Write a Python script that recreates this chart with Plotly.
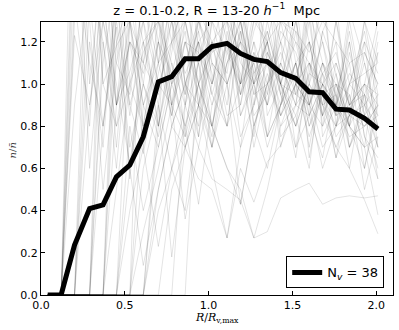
import plotly.graph_objects as go

# radial bins (R / R_v,max)
r_bins = [0.04, 0.12, 0.20, 0.29, 0.37, 0.45, 0.53, 0.61, 0.70, 0.78, 0.86, 0.94,
          1.02, 1.11, 1.19, 1.27, 1.35, 1.43, 1.52, 1.60, 1.68, 1.76, 1.84, 1.93, 2.01]

# stacked (mean) profile
mean_profile = [0.0, 0.0, 0.237, 0.41, 0.427, 0.56, 0.616, 0.75, 1.01, 1.035, 1.12, 1.12,
                1.178, 1.193, 1.145, 1.117, 1.106, 1.054, 1.027, 0.963, 0.959, 0.881,
                0.877, 0.837, 0.787]

# individual void profiles (estimated)
void_profiles = [
    [0,0,1.23,0.9,1.45,0.7,1.4,1.6,1.2,0.85,1.3,1.55,1.1,0.8,1.0,1.35,1.15,0.7,1.0,1.4,1.2,0.95,0.6,1.0,1.3],
    [0,0,1.6,1.1,0.8,1.4,1.7,0.75,1.2,1.5,1.0,0.8,1.4,1.6,0.95,1.2,0.75,0.9,1.3,1.0,1.5,0.8,1.2,0.75,0.55],
    [0,0,2.0,0.6,1.3,0.9,1.5,1.2,0.8,1.6,1.3,1.0,0.75,1.5,1.3,1.0,1.4,1.2,0.7,0.85,1.25,1.05,0.8,1.3,1.1],
    [0,0,1.8,1.3,0.5,1.1,0.95,1.4,1.0,1.2,1.7,1.15,0.9,1.2,1.45,0.8,1.0,1.3,0.95,1.5,0.75,0.9,1.25,0.85,0.95],
    [0,0,1.3,1.9,1.0,0.8,1.2,1.05,1.35,0.9,0.75,1.25,1.5,1.0,1.2,1.6,0.85,1.0,1.35,0.65,1.0,1.2,0.7,0.9,1.25],
    [0,0,0.9,1.5,1.2,0.6,1.3,1.1,1.6,1.3,0.75,1.0,1.15,1.5,0.85,1.0,1.2,0.75,0.85,1.05,1.4,0.9,1.1,0.6,0.9],
    [0,0,0,1.4,0.8,1.27,0.7,1.0,1.5,0.9,1.4,1.1,0.7,1.25,0.9,1.3,1.55,1.0,0.8,1.2,0.85,1.3,0.9,0.95,0.7],
    [0,0,0,2.2,1.0,1.18,1.3,0.9,1.1,1.6,1.0,1.2,0.95,0.8,1.3,0.95,1.2,1.5,1.1,0.8,1.0,0.65,0.85,1.2,1.05],
    [0,0,0,1.7,1.4,0.9,1.06,1.3,0.8,1.15,1.5,0.9,1.3,1.0,0.7,1.15,0.9,1.1,1.45,1.2,0.9,0.8,1.15,0.85,1.2],
    [0,0,0,0.9,1.3,1.0,0.62,1.1,1.4,1.0,1.25,0.75,1.2,0.9,1.4,1.05,1.2,0.85,1.0,1.35,0.8,1.1,0.9,1.3,0.95],
    [0,0,0,1.2,0.7,1.5,0.9,0.67,1.05,1.3,0.95,1.6,1.0,1.3,1.15,0.7,1.0,1.2,1.4,0.9,1.1,0.95,0.7,0.85,0.6],
    [0,0,0,0,1.6,1.1,1.4,1.0,0.8,1.2,1.3,1.0,1.5,1.2,0.95,1.25,1.45,0.95,0.8,1.0,1.2,0.85,1.0,1.25,0.9],
    [0,0,0,0,2.0,0.9,1.2,0.8,1.3,1.1,0.9,1.35,1.2,1.05,1.5,1.0,0.75,1.1,0.9,1.35,1.1,0.85,1.3,0.9,0.7],
    [0,0,0,0,1.2,0.8,1.0,1.4,1.1,0.85,1.2,1.0,0.8,1.15,1.0,1.5,1.1,0.9,1.25,0.85,0.65,1.0,0.8,1.15,1.0],
    [0,0,0,0,0.8,1.3,0.9,1.15,1.3,1.0,1.1,1.25,0.95,1.2,0.75,0.9,1.3,1.0,0.8,1.0,0.9,0.7,0.85,1.1,0.8],
    [0,0,0,0,0,1.7,1.0,1.2,0.9,1.4,1.0,0.75,1.3,1.6,1.0,1.15,0.95,1.4,1.0,0.9,1.25,1.4,0.8,0.7,1.15],
    [0,0,0,0,0,1.4,0.85,1.3,1.0,0.9,1.2,1.15,1.0,1.35,1.1,1.0,0.7,0.9,1.1,0.85,1.0,0.9,1.35,1.1,0.85],
    [0,0,0,0,0,0.9,1.3,0.7,1.1,1.2,0.95,1.3,1.05,0.8,1.25,0.95,1.0,1.1,0.9,1.3,0.85,1.05,0.7,0.95,1.15],
    [0,0,0,0,0,1.2,0.6,1.0,0.75,1.05,1.3,0.9,1.2,1.3,1.0,1.1,0.9,1.3,1.2,0.9,0.8,0.95,1.2,0.75,0.65],
    [0,0,0,0,0,0.5,1.0,0.8,1.2,0.9,1.1,1.3,1.1,1.0,1.2,0.8,1.05,0.85,1.0,1.1,0.95,0.8,0.85,1.0,0.8],
    [0,0,0,0,0,0,0.8,0.4,0.7,1.0,1.2,0.95,0.7,1.1,1.2,1.0,1.1,0.8,0.9,0.85,1.0,1.1,0.9,0.8,0.9],
    [0,0,0,0,0,0,1.3,0.9,1.2,1.05,0.8,1.1,1.4,1.3,0.85,1.05,0.9,1.25,1.15,0.95,0.7,0.8,1.0,1.2,0.7],
    [0,0,0,0,0,0,0.6,0.14,0.5,0.8,0.7,1.0,1.2,0.85,0.9,1.2,1.0,0.85,1.1,0.7,1.05,0.9,0.75,0.8,0.85],
    [0,0,0,0,0,0,0.4,0.7,0.23,0.6,0.9,1.1,0.8,1.2,1.05,0.75,1.15,1.0,0.65,1.1,0.85,1.0,0.95,0.7,0.75],
    [0,0,0,0,0,0,0,0.6,0.9,0.18,0.7,0.9,1.1,1.0,1.25,0.85,0.95,1.2,1.0,0.75,0.95,0.65,1.0,0.9,0.8],
    [0,0,0,0,0,0,0,0.3,0.6,0.9,0.36,0.7,1.0,1.2,0.95,1.1,0.75,0.9,1.05,1.2,0.9,0.95,0.8,0.6,0.95],
    [0,0,0,0,0,0,0,0.9,0.7,1.0,0.8,0.43,0.9,1.1,1.3,1.0,1.2,0.95,0.7,1.05,1.0,0.85,0.9,1.0,0.9],
    [0,0,0,0,0,0,0,0,0.5,0.8,1.0,0.9,0.6,0.27,0.7,0.9,1.1,1.0,0.85,0.6,1.1,0.9,0.8,0.95,0.55],
    [0,0,0,0,0,0,0,0,0.4,0.6,0.8,1.0,0.8,0.6,0.43,0.8,1.0,1.15,0.95,0.9,0.6,0.8,0.95,0.5,0.75],
    [0,0,0,0,0,0,0,0,0,0.5,0.7,0.9,0.8,0.6,0.5,0.27,0.5,0.8,1.0,0.9,1.05,0.75,0.85,0.8,0.9],
    [0,0,0,0,0,0,0,0,0,0,0.9,0.7,0.55,0.5,0.45,0.27,0.30,0.46,0.5,0.53,0.43,0.46,0.47,0.46,0.47],
    [0,0,0,0,0,0,0,0,0.8,1.1,0.7,0.55,0.5,0.27,0.6,0.44,0.63,0.71,0.9,1.0,0.85,0.7,0.6,0.45,0.29],
    [0,0,0,0,0,0,0,0,0.9,0.6,0.4,0.9,0.7,1.0,0.43,0.8,0.6,0.9,1.1,0.8,0.95,1.0,0.8,0.7,0.38],
    [0,0,2.5,1.0,1.6,0.9,1.2,1.1,0.95,1.3,1.05,1.2,1.0,1.4,1.2,1.1,1.25,1.0,0.95,1.1,1.0,0.9,1.05,0.95,0.85],
    [0,0,0,0,1.1,1.5,0.55,1.2,1.3,0.8,1.0,1.2,1.3,1.15,1.4,1.05,1.15,1.0,1.3,0.9,1.1,1.0,0.85,0.9,1.0],
    [0,0,0,0,0,0,0,1.8,1.1,1.4,0.9,1.3,1.15,1.2,1.0,1.3,1.2,0.95,1.1,1.2,1.05,1.15,0.9,1.0,0.95],
    [0,0,1.4,0.8,1.9,1.2,1.4,1.3,1.5,1.2,1.4,1.3,1.45,1.6,1.35,1.4,1.2,1.3,1.25,1.15,1.3,1.2,1.1,1.15,1.0],
    [0,0,0,0,0,0,0,0,0,0,0,1.2,0.8,1.1,1.3,0.9,1.25,1.0,1.2,1.1,0.9,1.3,1.0,1.05,1.1],
]

x_ticks = [0.0, 0.5, 1.0, 1.5, 2.0]
y_ticks = [0.0, 0.2, 0.4, 0.6, 0.8, 1.0, 1.2]
n_voids = 38

fig = go.Figure()
for prof in void_profiles:
    fig.add_trace(go.Scatter(x=r_bins, y=prof, mode="lines",
                             line=dict(color="rgba(0,0,0,0.11)", width=1),
                             showlegend=False, hoverinfo="skip"))

fig.add_trace(go.Scatter(x=r_bins, y=mean_profile, mode="lines",
                         line=dict(color="black", width=5),
                         name="N<sub><i>v</i></sub> = %d" % n_voids, showlegend=True))

axis_common = dict(showline=True, linecolor="black", linewidth=1, mirror="allticks",
                   ticks="inside", ticklen=4, tickcolor="black", showgrid=False,
                   zeroline=False, tickfont=dict(family="DejaVu Sans", size=11, color="black"))

fig.update_layout(
    width=399, height=330,
    margin=dict(l=41, r=6, t=22, b=35),
    paper_bgcolor="white", plot_bgcolor="white",
    title=dict(text="z = 0.1-0.2, R = 13-20 <i>h</i><sup>\u22121</sup>  Mpc",
               x=0.543, xanchor="center", y=0.955, yanchor="bottom",
               font=dict(family="DejaVu Sans", size=13, color="black")),
    xaxis=dict(range=[0, 2.1], tickvals=x_ticks, tickformat=".1f", **axis_common),
    yaxis=dict(range=[0, 1.294], tickvals=y_ticks, tickformat=".1f", **axis_common),
    legend=dict(x=0.975, y=0.024, xanchor="right", yanchor="bottom",
                bgcolor="white", bordercolor="black", borderwidth=1,
                font=dict(family="DejaVu Sans", size=13, color="black"),
                itemwidth=30, tracegroupgap=0),
    annotations=[
        dict(text="<i>R</i>/<i>R</i><sub>v,max</sub>", xref="paper", yref="paper",
             x=0.5, y=-0.05, xanchor="center", yanchor="top", showarrow=False,
             font=dict(family="DejaVu Serif", size=11, color="black")),
        dict(text="<i>n</i>/<i>n\u0304</i>", xref="paper", yref="paper",
             x=-0.082, y=0.53, xanchor="center", yanchor="middle", showarrow=False,
             textangle=-90, font=dict(family="DejaVu Serif", size=10, color="#444")),
    ],
)

fig.write_html("out.html", config={"displayModeBar": False},
               post_script="document.body.style.margin='0px';document.body.style.overflow='hidden';")
